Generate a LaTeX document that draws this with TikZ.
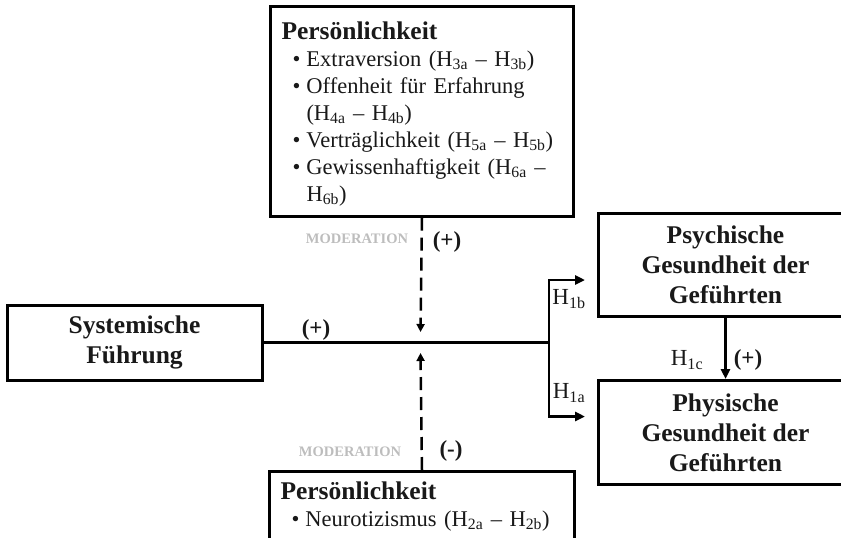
\documentclass[tikz,border=0pt]{standalone}
\usepackage{fontspec}
\setmainfont{Liberation Serif}
\usetikzlibrary{arrows.meta,calc,positioning}
\definecolor{ink}{gray}{0.1}
\definecolor{modgray}{gray}{0.74}
\setlength{\parindent}{0pt}
\newcommand{\Hy}[1]{H\textsubscript{#1}}
\newcommand{\pitem}[1]{\par\hangindent=25pt\hangafter=1\hspace*{11pt}\makebox[14pt][l]{\textbullet}#1}
\newcommand{\ptitle}[1]{{\fontsize{25.5}{30}\selectfont\bfseries #1}\par}

\tikzset{
  box/.style={draw, line width=3pt, text=ink, inner sep=0pt},
  headbox/.style={box, font=\fontsize{25.5}{30}\selectfont\bfseries, align=center},
  listbox/.style={box, anchor=north west, align=left, inner xsep=11pt, inner ysep=15pt, font=\fontsize{22.5}{27}\selectfont},
  link/.style={line width=2.5pt, -{Triangle[length=10pt,width=9pt]}},
  modlink/.style={line width=2.5pt, dash pattern=on 13pt off 7pt, -{Triangle[length=8pt,width=8pt]}},
  sign/.style={font=\fontsize{23}{27}\selectfont\bfseries, text=ink},
  hyp/.style={font=\fontsize{23}{27}\selectfont, text=ink},
  modlabel/.style={font=\fontsize{14.5}{17}\selectfont\bfseries, text=modgray}
}

\begin{document}
\begin{tikzpicture}[x=1pt,y=-1pt]
  \useasboundingbox (0,0) rectangle (841,538);
  \clip (0,0) rectangle (841,538);

  % boxes
  \node[listbox, minimum width=303pt, text width=281pt, text depth=162pt] (persA) at (269,5) {%
    \ptitle{Persönlichkeit}
    \pitem{Extraversion (\Hy{3a} – \Hy{3b})}
    \pitem{Offenheit für Erfahrung\newline(\Hy{4a} – \Hy{4b})}
    \pitem{Verträglichkeit (\Hy{5a} – \Hy{5b})}
    \pitem{Gewissenhaftigkeit (\Hy{6a} –\newline\Hy{6b})}\par};
  \node[listbox, minimum width=305pt, text width=283pt, inner ysep=10pt, text depth=60pt] (persB) at (268,470) {%
    \ptitle{Persönlichkeit}
    \pitem{Neurotizismus (\Hy{2a} – \Hy{2b})}\par};
  \node[headbox, minimum width=255pt, minimum height=75pt] (sysf) at (134.5,342.5) {Systemische\\Führung};
  \node[headbox, anchor=north west, minimum width=254pt, minimum height=103pt] (psych) at (597,212) {Psychische\\Gesundheit der\\Geführten};
  \node[headbox, anchor=north west, minimum width=254pt, minimum height=104pt] (phys) at (597,379) {Physische\\Gesundheit der\\Geführten};

  % connectors
  \coordinate (split) at (549,342.5);
  \coordinate (modA) at (420.5,332);
  \coordinate (modB) at (420.5,353);
  \draw[line width=2.5pt] (sysf.east) -- (split);
  \draw[link] (split) |- ($(psych.west)+(-12,15)$);
  \draw[link] (split) |- ($(phys.west)+(-12,-16)$);
  \draw[link] (psych.south) -- (phys.north);
  \draw[modlink] (persA.south) -- (modA);
  \draw[modlink] (persB.north) -- (modB);

  % labels
  \node[sign] (plusMain) at (316,330) {(+)};
  \node[sign] (plusMod) at (447,242) {(+)};
  \node[sign] (minusMod) at (451,451) {(-)};
  \node[sign] (plusC) at (748,360) {(+)};
  \node[hyp] (hypB) at (569,299) {\Hy{1b}};
  \node[hyp] (hypA) at (569,393) {\Hy{1a}};
  \node[hyp] (hypC) at (687,360) {\Hy{1c}};
  \node[modlabel] (modTextA) at (357,239) {MODERATION};
  \node[modlabel] (modTextB) at (350,452) {MODERATION};
\end{tikzpicture}
\end{document}
